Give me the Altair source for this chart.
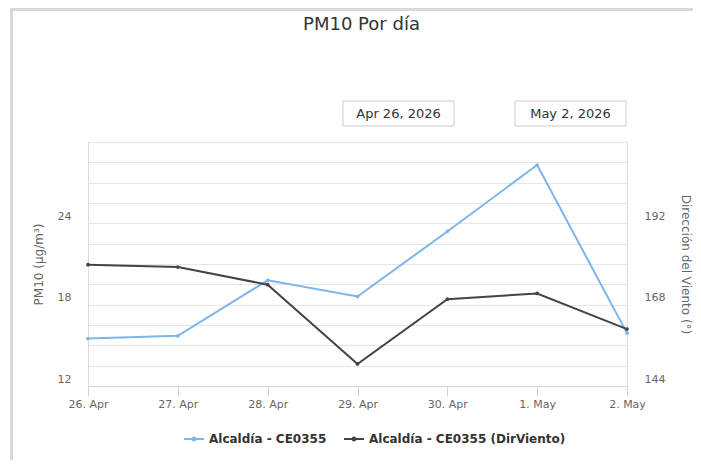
import altair as alt
import pandas as pd

# ---- data ----
days = ["26. Apr", "27. Apr", "28. Apr", "29. Apr", "30. Apr", "1. May", "2. May"]
pm10 = [15.5, 15.7, 19.8, 18.6, 23.4, 28.3, 15.9]
dir_viento = [179.8, 179.1, 173.9, 150.5, 169.6, 171.3, 160.8]

series_names = ["Alcaldía - CE0355", "Alcaldía - CE0355 (DirViento)"]
series_colors = ["#7cb5ec", "#434348"]

left_ticks = [12 + 1.5 * i for i in range(13)]
right_ticks = [144, 168, 192]
range_labels = ["Apr 26, 2026", "May 2, 2026"]
title_text = ["PM10 Por día"]

df = pd.DataFrame({"day": days, "pm10": pm10, "dir": dir_viento})

FONT = "DejaVu Sans"

x_enc = alt.X(
    "day:O",
    sort=days,
    scale=alt.Scale(type="point", padding=0),
    axis=alt.Axis(
        title=None, labelAngle=0, domainColor="#ccd6eb", tickColor="#ccd6eb",
        tickSize=10, labelPadding=2, labelColor="#666666", labelFontSize=11,
        labelFont=FONT, grid=False,
    ),
)

color_enc = alt.Color(
    "series:N",
    scale=alt.Scale(domain=series_names, range=series_colors),
    legend=alt.Legend(
        title=None, orient="none", legendX=95, legendY=286, direction="horizontal",
        labelFont=FONT, labelFontSize=12, labelFontWeight="bold", labelColor="#333333",
        labelLimit=400,
        symbolType="M-1,0H1M-0.15,0A0.15,0.15,0,1,0,0.15,0A0.15,0.15,0,1,0,-0.15,0",
        symbolSize=400, symbolStrokeWidth=2, labelOffset=4, columnPadding=13,
        padding=0,
    ),
)

pm_line = alt.Chart(df).transform_calculate(series="'Alcaldía - CE0355'").mark_line(
    strokeWidth=2, point=alt.OverlayMarkDef(size=14, filled=True)
).encode(
    x=x_enc,
    y=alt.Y(
        "pm10:Q",
        scale=alt.Scale(domain=[12, 30], nice=False, zero=False),
        axis=alt.Axis(
            orient="left", values=left_ticks, grid=True, gridColor="#e6e6e6",
            domain=False, ticks=False, labelPadding=17, labelColor="#666666",
            labelFontSize=11, labelFont=FONT, labelBaseline="alphabetic", labelOffset=-4,
            labelExpr="(datum.value == 12 || datum.value == 18 || datum.value == 24) ? datum.value : ''",
            title="PM10 (µg/m³)", titleColor="#666666", titleFontSize=12,
            titleFontWeight="normal", titleFont=FONT, titlePadding=12,
        ),
    ),
    color=color_enc,
)

dir_line = alt.Chart(df).transform_calculate(series="'Alcaldía - CE0355 (DirViento)'").mark_line(
    strokeWidth=2, point=alt.OverlayMarkDef(size=14, filled=True)
).encode(
    x=x_enc,
    y=alt.Y(
        "dir:Q",
        scale=alt.Scale(domain=[144, 216], nice=False, zero=False),
        axis=alt.Axis(
            orient="right", values=right_ticks, grid=False, domain=False, ticks=False,
            labelPadding=17, labelColor="#666666", labelFontSize=11, labelFont=FONT,
            labelBaseline="alphabetic", labelOffset=-4,
            title="Dirección del Viento (°)", titleColor="#666666", titleFontSize=12,
            titleFontWeight="normal", titleFont=FONT, titlePadding=14,
        ),
    ),
    color=color_enc,
)

one = pd.DataFrame({"k": [0]})

frame = alt.Chart(one).mark_rect(
    fillOpacity=0, stroke="#d9d9d9", strokeWidth=3
).encode(
    x=alt.value(-76.5), x2=alt.value(720), y=alt.value(-132.5), y2=alt.value(420)
)

box_df = pd.DataFrame({"label": range_labels})
title_df = pd.DataFrame({"label": title_text})

title_mark = alt.Chart(title_df).mark_text(
    font=FONT, fontSize=18, color="#333333", baseline="alphabetic", align="center"
).encode(x=alt.value(273.5), y=alt.value(-112), text="label:N")

box1 = alt.Chart(one).mark_rect(fill="white", stroke="#cccccc", strokeWidth=1).encode(
    x=alt.value(255), x2=alt.value(366), y=alt.value(-41), y2=alt.value(-16)
)
box2 = alt.Chart(one).mark_rect(fill="white", stroke="#cccccc", strokeWidth=1).encode(
    x=alt.value(427), x2=alt.value(538), y=alt.value(-41), y2=alt.value(-16)
)
txt1 = alt.Chart(box_df.iloc[[0]]).mark_text(
    font=FONT, fontSize=13, color="#333333", baseline="middle", align="center"
).encode(x=alt.value(310.5), y=alt.value(-28.5), text="label:N")
txt2 = alt.Chart(box_df.iloc[[1]]).mark_text(
    font=FONT, fontSize=13, color="#333333", baseline="middle", align="center"
).encode(x=alt.value(482.5), y=alt.value(-28.5), text="label:N")

chart = alt.layer(
    frame, pm_line, dir_line, box1, box2, txt1, txt2, title_mark
).resolve_scale(
    y="independent"
).properties(
    width=539,
    height=244,
    autosize=alt.AutoSizeParams(type="none"),
    padding={"left": 80, "top": 134, "right": 66, "bottom": 74},
).configure_view(
    stroke=None
).configure(
    background="white"
)

chart.save("out.html", embed_options={"renderer": "svg", "actions": False})
